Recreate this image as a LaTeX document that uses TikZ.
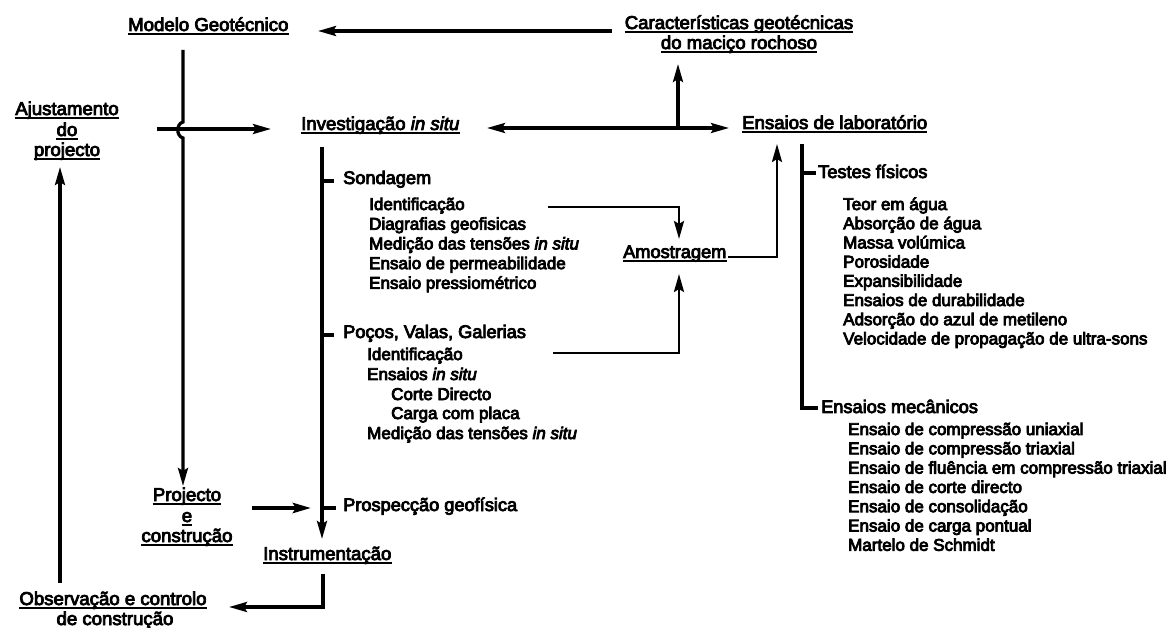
\documentclass[tikz,border=0pt]{standalone}
\usepackage{fontspec}
\setmainfont{Liberation Sans}
\usetikzlibrary{arrows.meta,calc}
\newcommand\heavytext{\special{pdf:literal direct 2 Tr 0.8 w 0 0 0 RG}}
\newcommand\ulnode[1]{\draw[ul] ([yshift=-2.8pt]#1.base west) -- ([yshift=-2.8pt]#1.base east);}
\begin{document}
\begin{tikzpicture}[x=1pt,y=-1pt,
  txt/.style={inner sep=0pt, anchor=base west, font=\fontsize{17}{20}\selectfont\heavytext},
  sub/.style={txt, font=\fontsize{18.2}{20}\selectfont\heavytext},
  head/.style={txt, font=\fontsize{18.6}{20}\selectfont\heavytext},
  headc/.style={head, anchor=base},
  ln/.style={line width=3.2pt},
  thinln/.style={line width=2.6pt},
  tipstyle/.style={-{Stealth[length=18pt,width=10pt,inset=3pt]}},
  arr/.style={ln, tipstyle},
  ul/.style={line width=2pt}]
\useasboundingbox (0,0) rectangle (1176,628);
\fill[white] (0,0) rectangle (1176,628);

% headings
\node[head] (modelo) at (128,31) {Modelo Geotécnico};
\node[headc] (car1) at (739,29) {Características geotécnicas};
\node[headc] (car2) at (739,49) {do maciço rochoso};
\node[headc] (aj1) at (67,115) {Ajustamento};
\node[headc] (aj2) at (67,136) {do};
\node[headc] (aj3) at (67,156) {projecto};
\node[head] (invest) at (301,130) {Investigação \textit{in situ}};
\node[head] (ensaios) at (742,129) {Ensaios de laboratório};
\node[sub] (amostr) at (623,258) {Amostragem};
\node[headc] (proj1) at (187,501) {Projecto};
\node[headc] (proj2) at (187,522) {e};
\node[headc] (proj3) at (187,542) {construção};
\node[head] (instr) at (263,560) {Instrumentação};
\node[headc] (obs1) at (113,605) {Observação e controlo};
\node[headc] (obs2) at (115,625) {de construção};
\foreach \n in {modelo,car1,car2,aj1,aj2,aj3,invest,ensaios,amostr,proj1,proj2,proj3,instr,obs1}{\ulnode{\n}}

% investigation lists
\node[sub] (sond) at (343,184) {Sondagem};
\foreach \t [count=\i] in {{Identificação},{Diagrafias geofisicas},{Medição das tensões \textit{in situ}},{Ensaio de permeabilidade},{Ensaio pressiométrico}}
  \node[txt, name=s\i] at (369,{210+19.7*(\i-1)}) {\t};
\node[sub] (pocos) at (343,338) {Poços, Valas, Galerias};
\node[txt] (p1) at (367,360) {Identificação};
\node[txt] (p2) at (367,380) {Ensaios \textit{in situ}};
\node[txt] (p3) at (391,400) {Corte Directo};
\node[txt] (p4) at (391,419) {Carga com placa};
\node[txt] (p5) at (367,439) {Medição das tensões \textit{in situ}};
\node[sub] (prosp) at (343,511) {Prospecção geofísica};

% laboratory lists
\node[sub] (testes) at (818,178) {Testes físicos};
\foreach \t [count=\i] in {{Teor em água},{Absorção de água},{Massa volúmica},{Porosidade},{Expansibilidade},{Ensaios de durabilidade},{Adsorção do azul de metileno},{Velocidade de propagação de ultra-sons}}
  \node[txt, name=t\i] at (843,{210+19.2*(\i-1)}) {\t};
\node[sub] (mec) at (821,413) {Ensaios mecânicos};
\foreach \t [count=\i] in {{Ensaio de compressão uniaxial},{Ensaio de compressão triaxial},{Ensaio de fluência em compressão triaxial},{Ensaio de corte directo},{Ensaio de consolidação},{Ensaio de carga pontual},{Martelo de Schmidt}}
  \node[txt, name=m\i] at (848,{435+19.3*(\i-1)}) {\t};

% connectors
\coordinate (cLeft) at (612,31);
\coordinate (mTip) at (318,31);
\draw[arr] (cLeft) -- (mTip);

\coordinate (mTop) at (183,50);
\coordinate (pTip) at (183,486);
\draw[arr] (mTop) -- (183,122) .. controls (176,124) and (176,136) .. (183,138) -- (pTip);

\coordinate (ajR) at (157,129);
\coordinate (invTip) at (271,129);
\draw[arr] (ajR) -- (invTip);

\coordinate (invR) at (487,128);
\coordinate (ensL) at (729,128);
\coordinate (brk) at (678,128);
\coordinate (carTip) at (678,64);
\draw[ln, {Stealth[length=18pt,width=10pt,inset=3pt]}-{Stealth[length=18pt,width=10pt,inset=3pt]}] (invR) -- (ensL);
\draw[arr] (brk) -- (carTip);

\coordinate (invTop) at (322,147);
\coordinate (instrTip) at (322,539);
\draw[arr] (invTop) -- (instrTip);
\draw[ln] (322,181) -- (334,181);
\draw[ln] (322,335) -- (334,335);
\draw[ln] (322,508) -- (336,508);

\draw[line width=4.5pt, -{Stealth[length=18pt,width=10pt,inset=3pt]}] (252,508) -- (311,508);

\draw[arr] (323,574) -- (323,607) -- (229,607);
\draw[arr] (60,583) -- (60,167);

\draw[thinln, tipstyle] (548,207) -- (679,207) -- (679,239);
\draw[thinln, tipstyle] (553,353) -- (679,353) -- (679,274);
\draw[thinln, tipstyle] (728,257) -- (777,257) -- (777,144);

\draw[ln] (802,144) -- (802,408) -- (818,408);
\draw[ln] (802,173) -- (816,173);
\end{tikzpicture}
\end{document}
